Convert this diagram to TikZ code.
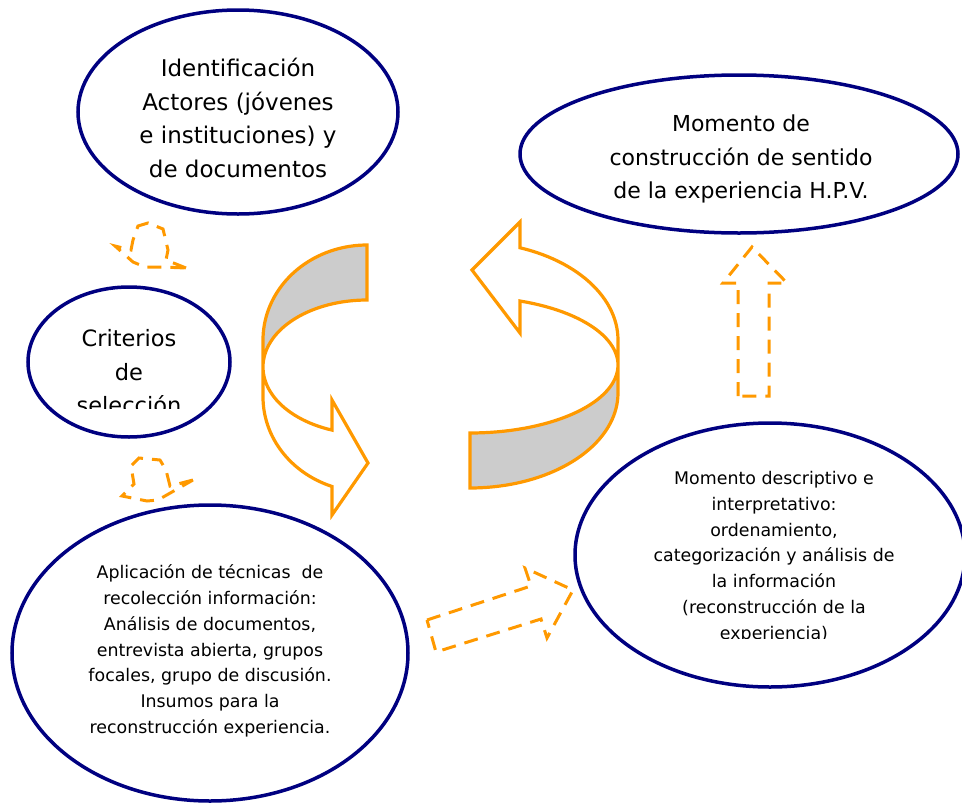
\documentclass[tikz,border=0pt]{standalone}
\usepackage{fontspec}
\setmainfont{DejaVu Sans}
\definecolor{ovalblue}{RGB}{0,0,128}
\definecolor{arroworange}{RGB}{255,153,0}
\definecolor{bandgray}{RGB}{204,204,204}
\usetikzlibrary{shapes.geometric}

\begin{document}
\begin{tikzpicture}[x=1pt, y=-1pt,
  oval/.style={ellipse, draw=ovalblue, line width=3.5pt, inner sep=0pt},
  bigtext/.style={font=\fontsize{23}{33.5}\selectfont, align=center, inner sep=0pt},
  smalltext/.style={font=\fontsize{17.4}{25.8}\selectfont, align=center, inner sep=0pt},
  dashedarrow/.style={draw=arroworange, line width=3pt, dash pattern=on 14pt off 9pt},
  ribbon/.style={draw=arroworange, line width=3.2pt}]
  \useasboundingbox (0,0) rectangle (962,804);

  % Identificacion
  \node[oval, minimum width=320pt, minimum height=204pt] (ident) at (238,112) {};
  \node[bigtext] (identtxt) at (238,118) {Identificación\\Actores (jóvenes\\e instituciones) y\\de documentos};

  % Criterios
  \node[oval, minimum width=202pt, minimum height=150pt] (crit) at (129,362) {};
  \begin{scope}
    \clip (0,280) rectangle (240,408);
    \node[font=\fontsize{22.5}{33.5}\selectfont, align=center, inner sep=0pt] (crittxt) at (129,372) {Criterios\\de\\selección};
  \end{scope}

  % Aplicacion de tecnicas
  \node[oval, minimum width=396pt, minimum height=296pt] (aplic) at (210,653) {};
  \node[smalltext] (aplictxt) at (210,651) {Aplicación de técnicas~ de\\recolección información:\\Análisis de documentos,\\entrevista abierta, grupos\\focales, grupo de discusión.\\Insumos para la\\reconstrucción experiencia.};

  % Momento descriptivo
  \node[oval, minimum width=390pt, minimum height=264pt] (descr) at (770,555) {};
  \begin{scope}
    \clip (560,420) rectangle (962,638);
    \node[smalltext] (descrtxt) at (774,557) {Momento descriptivo e\\interpretativo:\\ordenamiento,\\categorización y análisis de\\la información\\(reconstrucción de la\\experiencia)};
  \end{scope}

  % Momento de construccion
  \node[oval, minimum width=438pt, minimum height=158pt] (sentido) at (739,154) {};
  \node[bigtext, font=\fontsize{22}{33.5}\selectfont] (sentidotxt) at (741,159) {Momento de\\construcción de sentido\\de la experiencia H.P.V.};

  % Left ribbon arrow
  \fill[bandgray] plot[domain=270:180, samples=40] ({367+104*cos(\x)},{340+95*sin(\x)})
    -- plot[domain=180:270, samples=40] ({367+104*cos(\x)},{367+67*sin(\x)}) -- cycle;
  \draw[ribbon] plot[domain=270:180, samples=40] ({367+104*cos(\x)},{340+95*sin(\x)})
    -- plot[domain=180:109.67, samples=30] ({367+104*cos(\x)},{397+95*sin(\x)})
    -- (332,515) -- (368,463) -- (332,400)
    -- plot[domain=109.67:270, samples=60] ({367+104*cos(\x)},{367+67*sin(\x)}) -- cycle;

  % Right ribbon arrow
  \fill[bandgray] plot[domain=90:0, samples=40] ({470+148*cos(\x)},{365+68*sin(\x)})
    -- plot[domain=0:90, samples=40] ({470+148*cos(\x)},{393+95*sin(\x)}) -- cycle;
  \draw[ribbon] plot[domain=289.74:360, samples=30] ({470+148*cos(\x)},{340+98*sin(\x)})
    -- plot[domain=0:90, samples=40] ({470+148*cos(\x)},{393+95*sin(\x)})
    -- plot[domain=90:-70.26, samples=60] ({470+148*cos(\x)},{365+68*sin(\x)})
    -- (520,333) -- (472,270) -- (520,222) -- cycle;

  % Dashed arrows
  \draw[dashedarrow] (186,268) -- (166,260) -- (168,250) -- (163,229) -- (148,223) -- (138,226)
    -- (133,240) -- (131,250) -- (115,246) -- (133,262) -- (145,267) -- (162,267) -- cycle;
  \draw[dashedarrow] (193,480) -- (170,486) -- (166,470) -- (160,460) -- (139,458) -- (131,466)
    -- (134,484) -- (122,496) -- (147,501) -- (158,500) -- (172,492) -- cycle;
  \draw[dashedarrow] (427,620) -- (531,586) -- (525,568) -- (573,590) -- (547,638) -- (541,619)
    -- (436,652) -- cycle;
  \draw[dashedarrow] (738,396) -- (738,283) -- (723,283) -- (752,247) -- (787,283) -- (769,283)
    -- (769,396) -- cycle;
\end{tikzpicture}
\end{document}
